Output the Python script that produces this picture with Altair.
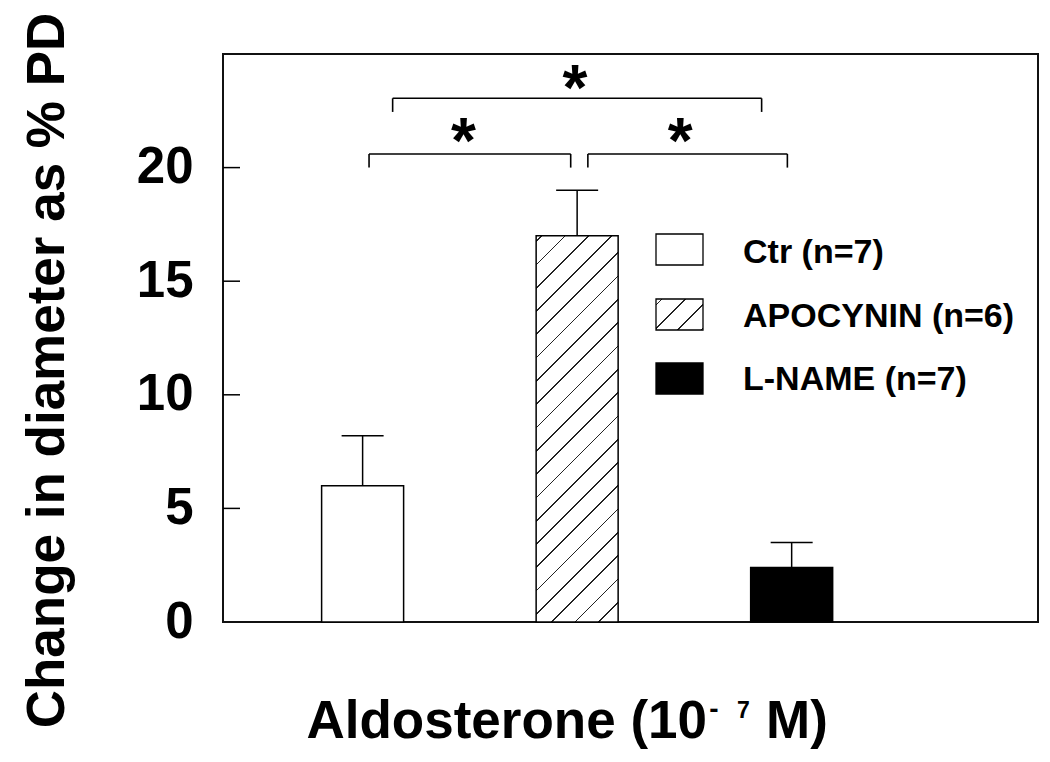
import altair as alt
import pandas as pd

# ---------------- data ----------------
groups = ["Ctr", "APOCYNIN", "L-NAME"]
legend_labels = ["Ctr (n=7)", "APOCYNIN (n=6)", "L-NAME (n=7)"]
positions = [1, 2, 3]
means = [6.0, 17.0, 2.4]
err_tops = [8.2, 19.0, 3.5]
y_tick_values = [0, 5, 10, 15, 20]
inner_ticks = [5, 10, 15, 20]

# significance brackets (x from, x to, bar height, leg bottom)
br_x1 = [1.03, 2.05, 1.14]
br_x2 = [1.97, 2.98, 2.86]
br_y = [20.6, 20.6, 23.05]
br_low = [20.0, 20.0, 22.45]
star_x = [1.47, 2.48, 1.99]
star_y = [21.8, 21.8, 24.1]
star_text = ["*", "*", "*"]

# x title in pieces: main text, superscript minus, superscript exponent, unit
x_title_parts = ["Aldosterone (10", "-", "7", "M)"]
y_title = "Change in diameter as % PD"

# ---------------- layout / style ----------------
W, H = 815, 568
X_DOMAIN = [0.3725, 4.125]
Y_DOMAIN = [0, 25]
FONT = "Liberation Sans"
BAR_PX = 82


def hatch(w, h, spacing=23.3, c0=5.7, lw=1.7, color="#222222"):
    s = w + h
    k = s / (w * w + h * h)
    stops = [{"offset": 0, "color": "white"}]
    c = c0
    while c < s:
        a = max(c - lw / 2, 0) / s
        b = min(c + lw / 2, s) / s
        stops += [
            {"offset": a, "color": "white"},
            {"offset": a, "color": color},
            {"offset": b, "color": color},
            {"offset": b, "color": "white"},
        ]
        c += spacing
    stops.append({"offset": 1, "color": "white"})
    return {"gradient": "linear", "x1": 0, "y1": 0, "x2": k * w, "y2": k * h, "stops": stops}


bars = pd.DataFrame({"group": groups, "pos": positions, "mean": means, "top": err_tops})
xs = alt.Scale(domain=X_DOMAIN, nice=False, zero=False)
ys = alt.Scale(domain=Y_DOMAIN, nice=False, zero=False)

y_axis = alt.Axis(
    values=y_tick_values, ticks=False, domain=False, grid=False, title=y_title,
    labelFontSize=51, labelFontWeight="bold", labelFont=FONT, labelColor="black",
    labelPadding=30,
    titleFontSize=53, titleFontWeight="bold", titleFont=FONT, titleColor="black",
    titleAngle=270, titleX=-160, titleY=316, titleBaseline="alphabetic", titleAlign="center",
)


def X(field):
    return alt.X(field, scale=xs, axis=None)


def Y(field):
    return alt.Y(field, scale=ys, axis=y_axis, title=y_title)


plain = alt.Chart(bars).transform_filter(alt.datum.group != "APOCYNIN").mark_bar(
    size=BAR_PX, stroke="black", strokeWidth=1.5
).encode(
    x=X("pos:Q"),
    y=Y("mean:Q"),
    fill=alt.Fill("group:N", scale=alt.Scale(domain=["Ctr", "L-NAME"], range=["white", "black"]), legend=None),
)

bar_h = means[1] * H / Y_DOMAIN[1]
hatched = alt.Chart(bars).transform_filter(alt.datum.group == "APOCYNIN").mark_bar(
    size=BAR_PX, stroke="black", strokeWidth=1.5, fill=hatch(BAR_PX, bar_h)
).encode(
    x=X("pos:Q"),
    y=Y("mean:Q"),
)

err_rule = alt.Chart(bars).mark_rule(color="black", strokeWidth=1.5).encode(
    x=X("pos:Q"),
    y=Y("mean:Q"),
    y2="top:Q",
)
err_cap = alt.Chart(bars).mark_tick(orient="horizontal", size=42, thickness=1.5, color="black", opacity=1).encode(
    x=X("pos:Q"),
    y=Y("top:Q"),
)

ticks_df = pd.DataFrame({"v": inner_ticks})
in_ticks = alt.Chart(ticks_df).mark_rule(color="black", strokeWidth=1.5).encode(
    x=alt.value(0), x2=alt.value(17), y=Y("v:Q")
)

br = pd.DataFrame({"x1": br_x1, "x2": br_x2, "y": br_y, "low": br_low})
br_h = alt.Chart(br).mark_rule(color="black", strokeWidth=1.6).encode(
    x=X("x1:Q"), x2="x2:Q", y=Y("y:Q")
)
br_l = alt.Chart(br).mark_rule(color="black", strokeWidth=1.6).encode(
    x=X("x1:Q"), y=Y("low:Q"), y2="y:Q"
)
br_r = alt.Chart(br).mark_rule(color="black", strokeWidth=1.6).encode(
    x=X("x2:Q"), y=Y("low:Q"), y2="y:Q"
)
stars = alt.Chart(pd.DataFrame({"x": star_x, "y": star_y, "t": star_text})).mark_text(
    font=FONT, fontSize=64, fontWeight="bold", baseline="alphabetic", align="center", dy=36, color="black"
).encode(
    x=X("x:Q"), y=Y("y:Q"), text="t:N"
)

# manual legend (inside the plot)
sw_x = (433, 480)
sw_y = [(180, 211), (245, 276), (309, 340)]
txt_y = [199, 263, 326]
sw_fill = ["white", hatch(sw_x[1] - sw_x[0], 31, c0=6.0), "black"]
legend_layers = []
for i, lab in enumerate(legend_labels):
    d = pd.DataFrame({"label": [lab]})
    legend_layers.append(
        alt.Chart(d).mark_rect(fill=sw_fill[i], stroke="black", strokeWidth=1.3).encode(
            x=alt.value(sw_x[0]), x2=alt.value(sw_x[1]), y=alt.value(sw_y[i][0]), y2=alt.value(sw_y[i][1])
        )
    )
    legend_layers.append(
        alt.Chart(d).mark_text(font=FONT, fontSize=34, fontWeight="bold", align="left", baseline="middle", color="black").encode(
            x=alt.value(520), y=alt.value(txt_y[i]), text="label:N"
        )
    )

# x-axis title as text pieces (superscript exponent)
xt_style = [  # (x px, baseline px, align, font size) relative to the plot area
    (484, 684, "right", 53),
    (491, 664, "center", 28),
    (514, 664, "left", 23),
    (543, 684, "left", 53),
]
title_layers = []
for part, (px, py, al, fs) in zip(x_title_parts, xt_style):
    title_layers.append(
        alt.Chart(pd.DataFrame({"t": [part]})).mark_text(
            font=FONT, fontSize=fs, fontWeight="bold", align=al, baseline="alphabetic", color="black"
        ).encode(x=alt.value(px), y=alt.value(py), text="t:N")
    )

chart = alt.layer(
    plain, hatched, err_rule, err_cap, in_ticks, br_h, br_l, br_r, stars, *legend_layers, *title_layers
).properties(
    width=W, height=H,
    autosize=alt.AutoSizeParams(type="none"),
    padding={"left": 215, "top": 46, "right": 2, "bottom": 128},
).configure(
    font=FONT, background="white"
).configure_view(
    stroke="#111111", strokeWidth=2
)

chart.save("out.html", embed_options={"renderer": "svg", "actions": False})
